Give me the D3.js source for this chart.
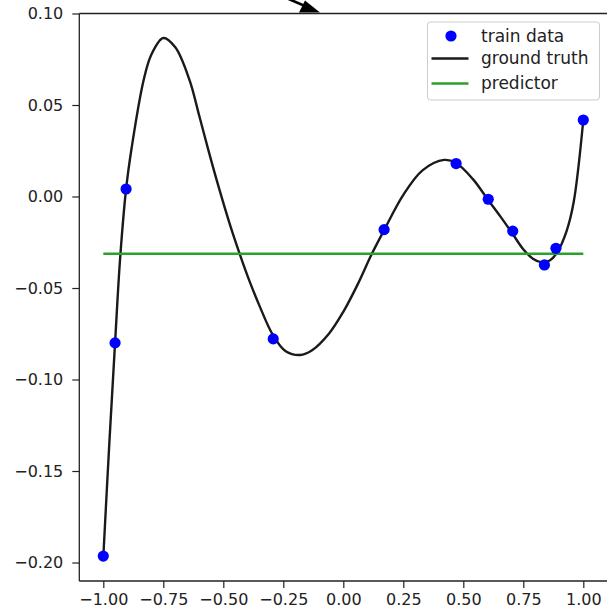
<!DOCTYPE html>
<html><head><meta charset="utf-8">
<script src="https://cdn.jsdelivr.net/npm/d3@7"></script>
<style>
body{margin:0;background:#fff}
svg{display:block}
text{font-family:"DejaVu Sans",sans-serif}
</style>
</head><body>
<svg id="chart" width="607" height="608"></svg>
<script>
// noisy samples of the target function
const trainX = [-1.000, -0.951, -0.905, -0.292, 0.170, 0.470, 0.604, 0.706, 0.838, 0.886, 1.000];
const trainY = [-0.1965, -0.0800, 0.0041, -0.0778, -0.0181, 0.0180, -0.0015, -0.0189, -0.0374, -0.0283, 0.0418];

// ground-truth curve, sampled
const truthX = [-1.000, -0.975, -0.951, -0.930, -0.905, -0.882, -0.833, -0.800, -0.750, -0.700, -0.641, -0.600, -0.5625, -0.520, -0.472, -0.430, -0.390, -0.350, -0.292, -0.240, -0.180, -0.130, -0.060, 0.000, 0.060, 0.119, 0.170, 0.250, 0.330, 0.420, 0.470, 0.540, 0.604, 0.655, 0.706, 0.748, 0.790, 0.827, 0.860, 0.889, 0.930, 0.960, 1.000];
const truthY = [-0.1970, -0.1350, -0.0800, -0.0340, 0.0041, 0.0265, 0.0630, 0.0775, 0.0866, 0.0815, 0.0637, 0.0440, 0.0255, 0.0055, -0.0155, -0.0320, -0.0465, -0.0595, -0.0760, -0.0845, -0.0866, -0.0840, -0.0750, -0.0630, -0.0480, -0.0313, -0.0184, 0.0009, 0.0143, 0.0200, 0.0183, 0.0095, -0.0020, -0.0110, -0.0205, -0.0285, -0.0340, -0.0360, -0.0350, -0.0310, -0.0190, -0.0030, 0.0418];

// constant predictor
const predictorX = [-1.0, 1.0];
const predictorY = [-0.0313, -0.0313];

const xTicks = [-1.00, -0.75, -0.50, -0.25, 0.00, 0.25, 0.50, 0.75, 1.00];
const yTicks = [0.10, 0.05, 0.00, -0.05, -0.10, -0.15, -0.20];
const legendLabels = ["train data", "ground truth", "predictor"];
const colors = {train: "#0000ff", truth: "#1a1a1a", predictor: "#2ca02c"};

const svg = d3.select("#chart");
const plotLeft = 79.3, plotRight = 607.3, plotTop = 13.5, plotBottom = 581;

const x = d3.scaleLinear().domain([-1.1, 1.1]).range([plotLeft, plotRight]);
const y = d3.scaleLinear().domain([-0.2101, 0.10]).range([plotBottom, plotTop]);

const fmt = d => d3.format(".2f")(d).replace("-", "\u2212");

// annotation arrow drawn above the axes
const arrow = svg.append("g").attr("fill", "#000").attr("stroke", "#000");
arrow.append("line").attr("x1", 284).attr("y1", -3).attr("x2", 305).attr("y2", 6)
  .attr("stroke-width", 2.6);
arrow.append("path").attr("d", "M299,12.5 L320,12.5 L305,0.5 Z").attr("stroke", "none");

// plot clip
svg.append("clipPath").attr("id", "plotclip").append("rect")
  .attr("x", plotLeft).attr("y", plotTop).attr("width", plotRight - plotLeft).attr("height", plotBottom - plotTop);

const plot = svg.append("g").attr("clip-path", "url(#plotclip)");

const line = d3.line().x(d => x(d[0])).y(d => y(d[1]));

plot.append("path")
  .datum(truthX.map((v, i) => [v, truthY[i]]))
  .attr("fill", "none").attr("stroke", colors.truth).attr("stroke-width", 2.4)
  .attr("d", line.curve(d3.curveCatmullRom.alpha(0.5)));

plot.append("path")
  .attr("fill", "none").attr("stroke", colors.predictor).attr("stroke-width", 2.4)
  .attr("d", d3.line().x(d => x(d[0])).y(d => y(d[1]))(predictorX.map((v, i) => [v, predictorY[i]])));

plot.selectAll("circle.train")
  .data(trainX.map((v, i) => [v, trainY[i]]))
  .join("circle").attr("class", "train")
  .attr("cx", d => x(d[0])).attr("cy", d => y(d[1])).attr("r", 5.6)
  .attr("fill", colors.train);

// axes
const xAxis = d3.axisBottom(x).tickValues(xTicks).tickFormat(fmt).tickSize(7).tickPadding(6);
const yAxis = d3.axisLeft(y).tickValues(yTicks).tickFormat(fmt).tickSize(7).tickPadding(9);

const gx = svg.append("g").attr("transform", `translate(0,${plotBottom})`).call(xAxis);
const gy = svg.append("g").attr("transform", `translate(${plotLeft},0)`).call(yAxis);
[gx, gy].forEach(g => {
  g.select(".domain").remove();
  g.selectAll(".tick line").attr("stroke", "#222").attr("stroke-width", 1.2);
  g.selectAll(".tick text").attr("fill", "#222").style("font-size", "16px")
    .style("font-family", "'DejaVu Sans', sans-serif");
});

// spines: left, top, bottom (the right one falls at the canvas edge)
const spine = svg.append("g").attr("stroke", "#222").attr("stroke-width", 1.3).attr("fill", "none");
spine.append("line").attr("x1", plotLeft).attr("x2", plotLeft).attr("y1", plotTop).attr("y2", plotBottom);
spine.append("line").attr("x1", plotLeft).attr("x2", plotRight).attr("y1", plotTop).attr("y2", plotTop);
spine.append("line").attr("x1", plotLeft).attr("x2", plotRight).attr("y1", plotBottom).attr("y2", plotBottom);

// legend
const lg = svg.append("g").attr("transform", "translate(427.5,22)");
lg.append("rect").attr("width", 172).attr("height", 78).attr("rx", 3)
  .attr("fill", "#fff").attr("fill-opacity", 0.8).attr("stroke", "#cccccc").attr("stroke-width", 1);
const rows = [14, 36.5, 61.5];
lg.append("circle").attr("cx", 23.5).attr("cy", rows[0]).attr("r", 5.6).attr("fill", colors.train);
lg.append("line").attr("x1", 4).attr("x2", 41).attr("y1", rows[1]).attr("y2", rows[1])
  .attr("stroke", colors.truth).attr("stroke-width", 2.4);
lg.append("line").attr("x1", 4).attr("x2", 41).attr("y1", rows[2]).attr("y2", rows[2])
  .attr("stroke", colors.predictor).attr("stroke-width", 2.4);
legendLabels.forEach((t, i) => {
  lg.append("text").attr("x", 53.5).attr("y", rows[i]).attr("dy", "0.35em")
    .attr("fill", "#222").style("font-size", "17px").text(t);
});
</script>
</body></html>
